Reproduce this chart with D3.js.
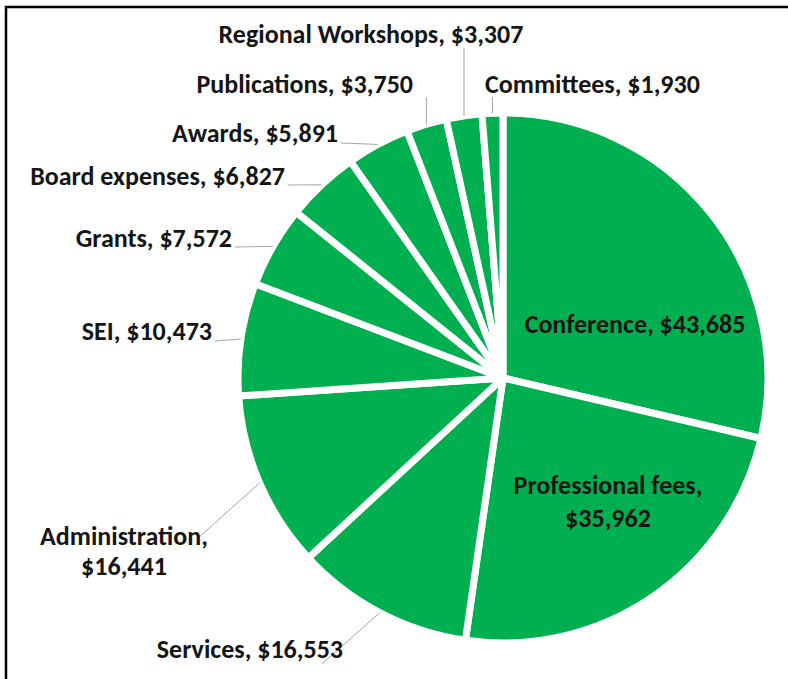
<!DOCTYPE html>
<html>
<head>
<meta charset="utf-8">
<script src="https://cdn.jsdelivr.net/npm/d3@7"></script>
<style>
  body { margin: 0; background: #fff; }
  text { font-family: Carlito, Calibri, "Open Sans", sans-serif; font-weight: bold; fill: #151515; }
</style>
</head>
<body>
<div id="chart"></div>
<script>
// expense categories, clockwise from 12 o'clock
var categories = ["Conference", "Professional fees", "Services", "Administration", "SEI",
                  "Grants", "Board expenses", "Awards", "Publications", "Regional Workshops", "Committees"];
var amounts = [43685, 35962, 16553, 16441, 10473, 7572, 6827, 5891, 3750, 3307, 1930];

// label placement (hand placed like the original): x, first baseline, anchor, line gap, leader end
var labelLayout = {
  "Conference":         {x: 635, y: 333, anchor: "middle", split: false},
  "Professional fees":  {x: 608, y: 494, anchor: "middle", split: true, gap: 33},
  "Services":           {x: 343, y: 658, anchor: "end", split: false, leader: [322, 664]},
  "Administration":     {x: 124, y: 545, anchor: "middle", split: true, gap: 30, leader: [198, 538]},
  "SEI":                {x: 212, y: 340, anchor: "end", split: false, leader: [215, 341]},
  "Grants":             {x: 232, y: 247, anchor: "end", split: false, leader: [235, 247]},
  "Board expenses":     {x: 285, y: 185, anchor: "end", split: false, leader: [288, 185]},
  "Awards":             {x: 338, y: 142, anchor: "end", split: false, leader: [341, 143]},
  "Publications":       {x: 413, y: 93, anchor: "end", split: false, leader: [null, 97]},
  "Regional Workshops": {x: 371, y: 43, anchor: "middle", split: false, leader: [null, 48]},
  "Committees":         {x: 485, y: 93, anchor: "start", split: false, leader: [null, 97]}
};

var width = 788, height = 679;
var cx = 503, cy = 378, radius = 265;

var svg = d3.select("#chart")
    .append("svg")
    .attr("width", width)
    .attr("height", height);

// picture frame (top and left edges visible)
svg.append("path")
    .attr("d", "M6,679 L6,7 L788,7")
    .attr("fill", "none")
    .attr("stroke", "#000")
    .attr("stroke-width", 2.5);

var data = categories.map(function(c, i) { return {name: c, value: amounts[i]}; });

var pie = d3.pie()
    .value(function(d) { return d.value; })
    .sort(null);

var arc = d3.arc()
    .innerRadius(0)
    .outerRadius(radius);

var rimArc = d3.arc()
    .innerRadius(radius)
    .outerRadius(radius);

var fmt = d3.format("$,");

var g = svg.append("g")
    .attr("transform", "translate(" + cx + "," + cy + ")");

var arcs = pie(data);

g.selectAll("path.slice")
    .data(arcs)
    .enter()
    .append("path")
    .attr("class", "slice")
    .attr("d", arc)
    .attr("fill", "#00b050")
    .attr("stroke", "#fff")
    .attr("stroke-width", 7)
    .attr("stroke-linejoin", "round");

// leader lines from the rim (mid angle) to the label
arcs.forEach(function(a) {
    var lay = labelLayout[a.data.name];
    if (!lay.leader) return;
    var p = rimArc.centroid(a);
    var x0 = p[0] + cx, y0 = p[1] + cy;
    var x1 = lay.leader[0] == null ? x0 : lay.leader[0];
    var y1 = lay.leader[1];
    svg.append("line")
        .attr("x1", x0).attr("y1", y0)
        .attr("x2", x1).attr("y2", y1)
        .attr("stroke", "#a6a6a6")
        .attr("stroke-width", 1);
});

// labels
arcs.forEach(function(a) {
    var lay = labelLayout[a.data.name];
    var lines = lay.split ? [a.data.name + ",", fmt(a.data.value)]
                          : [a.data.name + ", " + fmt(a.data.value)];
    var t = svg.append("text")
        .attr("text-anchor", lay.anchor)
        .style("font-size", "26px");
    lines.forEach(function(s, i) {
        t.append("tspan")
            .attr("x", lay.x)
            .attr("y", lay.y + i * (lay.gap || 0))
            .text(s);
    });
});
</script>
</body>
</html>
